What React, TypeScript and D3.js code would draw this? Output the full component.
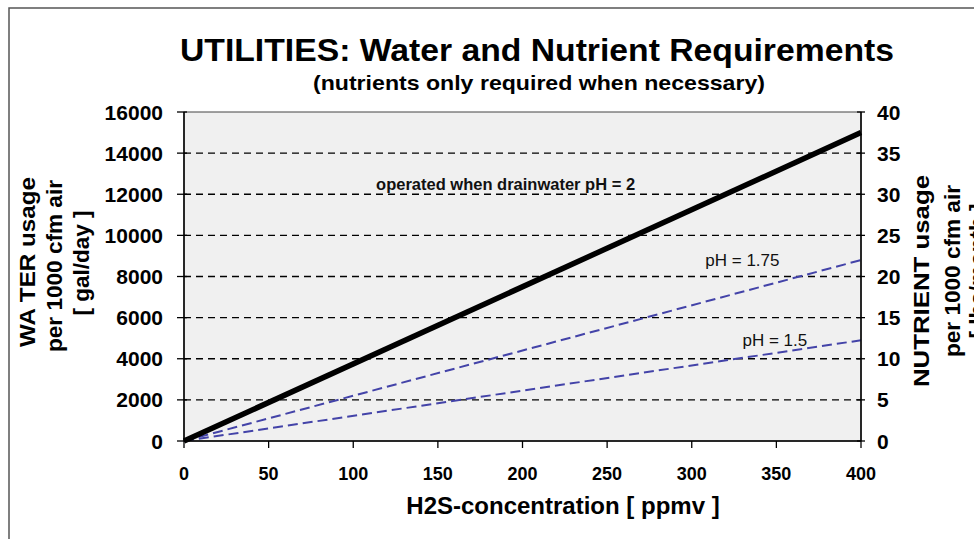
import React from "react";
import * as d3 from "d3";

// H2S concentration (ppmv) at line ends
const h2s = [0, 400];
// water usage, gal/day per 1000 cfm air
const waterPh2 = [0, 15000];
const waterPh175 = [0, 8800];
const waterPh15 = [0, 4900];

const xTicks = [0, 50, 100, 150, 200, 250, 300, 350, 400];
const waterTicks = [0, 2000, 4000, 6000, 8000, 10000, 12000, 14000, 16000];
const nutrientTicks = [0, 5, 10, 15, 20, 25, 30, 35, 40];

const W = 974;
const H = 539;
const plot = { left: 184, right: 861, top: 112, bottom: 441 };
const FONT = "'Liberation Sans', Arial, sans-serif";

const App = () => {
  const x = d3.scaleLinear().domain([0, 400]).range([plot.left, plot.right]);
  const yW = d3.scaleLinear().domain([0, 16000]).range([plot.bottom, plot.top]);
  const yN = d3.scaleLinear().domain([0, 40]).range([plot.bottom, plot.top]);

  const line = d3
    .line<number>()
    .x((_, i) => x(h2s[i]))
    .y((d) => yW(d));

  return (
    <svg
      width={W}
      height={H}
      style={{ position: "absolute", left: 0, top: 0, background: "#fff", fontFamily: FONT }}
    >
      <rect x={9} y={8} width={1000} height={600} fill="#fff" stroke="#555" strokeWidth={1.5} />

      {/* title */}
      <text
        x={537}
        y={61}
        textAnchor="middle"
        fontSize={31}
        fontWeight="bold"
        textLength={714}
        lengthAdjust="spacingAndGlyphs"
      >
        UTILITIES: Water and Nutrient Requirements
      </text>
      <text
        x={539}
        y={90}
        textAnchor="middle"
        fontSize={21}
        fontWeight="bold"
        textLength={452}
        lengthAdjust="spacingAndGlyphs"
      >
        (nutrients only required when necessary)
      </text>

      {/* plot area */}
      <rect
        x={plot.left}
        y={plot.top}
        width={plot.right - plot.left}
        height={plot.bottom - plot.top}
        fill="#f0f0f0"
        stroke="#444"
        strokeWidth={1}
      />

      {/* grid */}
      {waterTicks
        .filter((t) => t > 0 && t < 16000)
        .map((t) => (
          <line
            key={"g" + t}
            x1={plot.left}
            x2={plot.right}
            y1={yW(t)}
            y2={yW(t)}
            stroke="#000"
            strokeWidth={1.3}
            strokeDasharray="7,5"
          />
        ))}

      {/* data lines */}
      <path d={line(waterPh15) || ""} fill="none" stroke="#4343a8" strokeWidth={2} strokeDasharray="10,5" />
      <path d={line(waterPh175) || ""} fill="none" stroke="#4343a8" strokeWidth={2} strokeDasharray="10,5" />
      <path d={line(waterPh2) || ""} fill="none" stroke="#000" strokeWidth={5.5} />

      {/* annotations */}
      <text x={x(190)} y={yW(12200)} textAnchor="middle" fontSize={16.5} fontWeight="bold" fill="#111">
        operated when drainwater pH = 2
      </text>
      <text x={x(308)} y={yW(8510)} fontSize={17} fill="#111">
        pH = 1.75
      </text>
      <text x={x(330)} y={yW(4620)} fontSize={17} fill="#111">
        pH = 1.5
      </text>

      {/* axes lines */}
      <line x1={plot.left} x2={plot.left} y1={plot.top} y2={plot.bottom} stroke="#000" strokeWidth={1.5} />
      <line x1={plot.right} x2={plot.right} y1={plot.top} y2={plot.bottom} stroke="#000" strokeWidth={1.5} />
      <line x1={plot.left} x2={plot.right} y1={plot.bottom} y2={plot.bottom} stroke="#000" strokeWidth={1.5} />

      {/* left axis */}
      {waterTicks.map((t) => (
        <g key={"l" + t}>
          <line x1={plot.left - 7} x2={plot.left + 3} y1={yW(t)} y2={yW(t)} stroke="#000" strokeWidth={1.3} />
          <text x={163} y={yW(t)} dy="0.36em" textAnchor="end" fontSize={21} fontWeight="bold">
            {t}
          </text>
        </g>
      ))}

      {/* right axis */}
      {nutrientTicks.map((t) => (
        <g key={"r" + t}>
          <line x1={plot.right - 4} x2={plot.right + 4} y1={yN(t)} y2={yN(t)} stroke="#000" strokeWidth={1.3} />
          <text x={877} y={yN(t)} dy="0.36em" fontSize={21} fontWeight="bold">
            {t}
          </text>
        </g>
      ))}

      {/* bottom axis */}
      {xTicks.map((t) => (
        <g key={"b" + t}>
          <line x1={x(t)} x2={x(t)} y1={plot.bottom} y2={plot.bottom + 7} stroke="#000" strokeWidth={1.3} />
          <text x={x(t)} y={480} textAnchor="middle" fontSize={18} fontWeight="bold">
            {t}
          </text>
        </g>
      ))}

      <text x={563} y={514} textAnchor="middle" fontSize={24} fontWeight="bold">
        H2S-concentration [ ppmv ]
      </text>

      {/* left axis title */}
      <g fontSize={22.5} fontWeight="bold" textAnchor="middle">
        <text transform="translate(35,262) rotate(-90)" textLength={170} lengthAdjust="spacingAndGlyphs">
          WA TER usage
        </text>
        <text transform="translate(62,266) rotate(-90)" textLength={172} lengthAdjust="spacingAndGlyphs">
          per 1000 cfm air
        </text>
        <text transform="translate(89,263) rotate(-90)">[ gal/day ]</text>
      </g>

      {/* right axis title */}
      <g fontSize={22.5} fontWeight="bold" textAnchor="middle">
        <text transform="translate(929,281) rotate(-90)" textLength={212} lengthAdjust="spacingAndGlyphs">
          NUTRIENT usage
        </text>
        <text transform="translate(960,271) rotate(-90)" textLength={172} lengthAdjust="spacingAndGlyphs">
          per 1000 cfm air
        </text>
        <text transform="translate(985,271) rotate(-90)">[ lbs/month ]</text>
      </g>
    </svg>
  );
};

export default App;
